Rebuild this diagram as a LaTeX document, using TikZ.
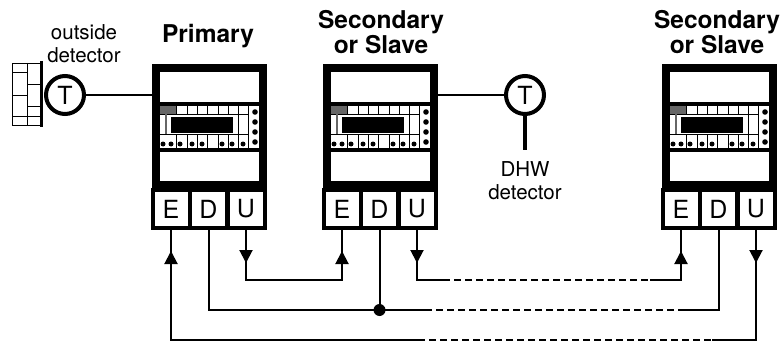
\documentclass[tikz,border=0pt]{standalone}
\usepackage{fontspec}
\setmainfont{TeX Gyre Heros}
\usetikzlibrary{arrows.meta}
\tikzset{
    wire/.style={line width=2pt},
    tip/.style={-{Triangle[length=13pt,width=13pt]}},
    dashwire/.style={wire,dash pattern=on 7pt off 4pt},
    ctrlbox/.style={draw,line width=8pt,minimum width=107pt,minimum height=117pt,inner sep=0pt},
    term/.style={draw,fill=white,line width=4pt,minimum width=37pt,minimum height=38pt,inner sep=0pt,font=\fontsize{25}{25}\selectfont},
    probe/.style={draw,circle,fill=white,line width=4pt,minimum size=38pt,inner sep=0pt,font=\fontsize{25}{25}\selectfont},
    caption/.style={align=center,inner sep=0pt,font=\fontsize{20.5}{23}\selectfont},
    title/.style={align=center,inner sep=0pt,font=\fontsize{24.5}{23}\selectfont\bfseries},
    thin line/.style={line width=0.8pt}
}

\begin{document}
\begin{tikzpicture}[x=1pt,y=-1pt]
    \useasboundingbox (0,0) rectangle (781,342);

    % the three controllers
    \foreach \ctrl/\xpos in {a/0,b/171,c/510}{
        \begin{scope}[xshift=\xpos pt]
            \node[ctrlbox] (box\ctrl) at (209.5,126.5) {};
            \fill (160,102) rectangle (259,106);
            \fill (160,148) rectangle (259,152);
            \fill (152,181) rectangle (267,192);
            \fill[black!60] (160,106) rectangle (176,114);
            \draw[thin line] (160,114) -- (248,114);
            \draw[thin line] (160,134) -- (248,134);
            \draw[thin line] (248,106) -- (248,148);
            \draw[thin line] (238,114) -- (238,134);
            \draw[black!60,line width=1.5pt] (166,114) -- (166,134);
            \foreach \cellx in {187,197,207,218,228,238}{
                \draw[thin line] (\cellx,106) -- (\cellx,114);
            }
            \draw[thin line] (176,106) -- (176,114);
            \foreach \cellx in {176,187,197,207,218,228,238}{
                \draw[thin line] (\cellx,134) -- (\cellx,148);
            }
            \fill (171,117) rectangle (233,133);
            \foreach \dotx in {163,171,180,192,202,222,232,243}{
                \fill (\dotx,144) circle (2.5);
            }
            \foreach \doty in {112,122,132,142}{
                \fill (255,\doty) circle (2.8);
            }
            \node[term] (E\ctrl) at (171,209) {E};
            \node[term] (D\ctrl) at (208.5,209) {D};
            \node[term] (U\ctrl) at (246,209) {U};
        \end{scope}
    }

    \node[title] at (208,36) {Primary};
    \node[title] at (381,32) {Secondary\\or Slave};
    \node[title] at (717,32) {Secondary\\or Slave};

    % outside wall with its detector
    \draw[line width=0.7pt] (12,63) rectangle (42,125);
    \draw[line width=0.7pt] (27,63) -- (27,125);
    \foreach \bricky in {72,95,116}{
        \draw[line width=0.7pt] (12,\bricky) -- (27,\bricky);
    }
    \foreach \bricky in {84,106,116}{
        \draw[line width=0.7pt] (27,\bricky) -- (42,\bricky);
    }
    \draw[line width=3.5pt] (41.5,61) -- (41.5,127);
    \node[probe] (outT) at (65,95) {T};
    \node[caption] at (84,43.5) {outside\\detector};
    \draw[wire] (outT.east) -- (outT -| boxa.west);

    % hot water detector
    \node[probe] (dhwT) at (525,95) {T};
    \coordinate (dhwend) at (525,150);
    \draw[line width=4pt] (dhwT.south) -- (dhwend);
    \node[caption] at (525,181) {DHW\\detector};
    \draw[wire] (boxb.east |- dhwT) -- (dhwT.west);

    % bus wires
    \coordinate (loopl) at (443,280);
    \coordinate (loopr) at (650,280);
    \coordinate (midl) at (425,310);
    \coordinate (midr) at (683,310);
    \coordinate (lowl) at (418,340);
    \coordinate (lowr) at (712,340);

    \draw[wire] (Ua.south) |- (Ua.south |- 0,280) -| (Eb.south);
    \draw[wire] (Ub.south) |- (loopl);
    \draw[dashwire] (loopl) -- (loopr);
    \draw[wire] (loopr) -| (Ec.south);

    \draw[wire] (Da.south) |- (midl);
    \draw[dashwire] (midl) -- (midr);
    \draw[wire] (midr) -| (Dc.south);
    \draw[wire] (Db.south) -- (Db.south |- midl) coordinate (joint);
    \fill (joint) circle (6);

    \draw[wire] (Ea.south) |- (lowl);
    \draw[dashwire] (lowl) -- (lowr);
    \draw[wire] (lowr) -| (Uc.south);

    % arrow heads on the wires
    \foreach \ctrl in {a,b,c}{
        \draw[wire,tip] ([yshift=-34pt]E\ctrl.south) -- ([yshift=-21pt]E\ctrl.south);
        \draw[wire,tip] ([yshift=-20pt]U\ctrl.south) -- ([yshift=-33pt]U\ctrl.south);
    }
\end{tikzpicture}
\end{document}
